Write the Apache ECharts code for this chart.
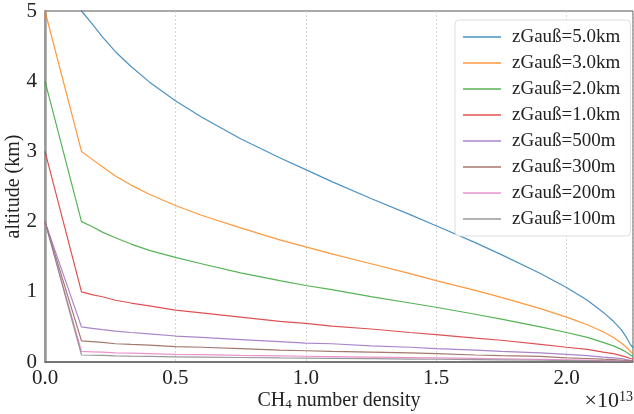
<!DOCTYPE html>
<html>
<head>
<meta charset="utf-8">
<script src="https://cdn.jsdelivr.net/npm/echarts@6/dist/echarts.min.js"></script>
<style>
  html, body { margin: 0; padding: 0; background: #fff; }
  #chart { width: 634px; height: 414px; }
</style>
</head>
<body>
<div id="chart"></div>
<script>
// CH4 number density (units of 1e13)
const density = [0, 0.14, 0.18, 0.22, 0.27, 0.33, 0.4, 0.5, 0.6, 0.75, 0.9, 1.0, 1.1, 1.25, 1.4, 1.5, 1.65, 1.75, 1.9, 2.0, 2.08, 2.14, 2.18, 2.21, 2.23, 2.245, 2.255];

// altitude (km) of each profile
const z5000 = [7, 5.00, 4.82, 4.63, 4.42, 4.21, 3.99, 3.72, 3.49, 3.18, 2.91, 2.74, 2.57, 2.33, 2.10, 1.94, 1.70, 1.53, 1.26, 1.06, 0.88, 0.71, 0.58, 0.46, 0.35, 0.25, 0.20];
const z3000 = [5, 3.00, 2.89, 2.78, 2.65, 2.52, 2.39, 2.23, 2.09, 1.91, 1.74, 1.64, 1.54, 1.40, 1.26, 1.16, 1.02, 0.92, 0.76, 0.64, 0.53, 0.43, 0.35, 0.27, 0.21, 0.15, 0.12];
const z2000 = [4, 2.00, 1.93, 1.85, 1.77, 1.68, 1.59, 1.49, 1.40, 1.27, 1.16, 1.09, 1.03, 0.93, 0.84, 0.78, 0.68, 0.61, 0.50, 0.42, 0.35, 0.28, 0.23, 0.18, 0.14, 0.10, 0.08];
const z1000 = [3, 1.00, 0.96, 0.93, 0.88, 0.84, 0.80, 0.74, 0.70, 0.64, 0.58, 0.55, 0.51, 0.47, 0.42, 0.39, 0.34, 0.31, 0.25, 0.21, 0.18, 0.14, 0.12, 0.09, 0.07, 0.05, 0.04];
const z500 = [2, 0.50, 0.48, 0.46, 0.44, 0.42, 0.40, 0.37, 0.35, 0.32, 0.29, 0.27, 0.26, 0.23, 0.21, 0.19, 0.17, 0.15, 0.13, 0.11, 0.09, 0.07, 0.06, 0.05, 0.035, 0.025, 0.02];
const z300 = [2, 0.30, 0.29, 0.28, 0.26, 0.25, 0.24, 0.22, 0.21, 0.19, 0.17, 0.16, 0.15, 0.14, 0.13, 0.12, 0.10, 0.09, 0.08, 0.06, 0.05, 0.04, 0.035, 0.027, 0.021, 0.015, 0.012];
const z200 = [2, 0.15, 0.145, 0.14, 0.13, 0.126, 0.12, 0.11, 0.105, 0.095, 0.087, 0.082, 0.077, 0.07, 0.063, 0.058, 0.051, 0.046, 0.038, 0.032, 0.026, 0.021, 0.017, 0.014, 0.011, 0.007, 0.006];
const z100 = [2, 0.10, 0.096, 0.093, 0.088, 0.084, 0.08, 0.074, 0.07, 0.064, 0.058, 0.055, 0.051, 0.047, 0.042, 0.039, 0.034, 0.031, 0.025, 0.021, 0.018, 0.014, 0.012, 0.009, 0.007, 0.005, 0.004];

const names = ["zGauß=5.0km", "zGauß=3.0km", "zGauß=2.0km", "zGauß=1.0km", "zGauß=500m", "zGauß=300m", "zGauß=200m", "zGauß=100m"];
const profiles = [z5000, z3000, z2000, z1000, z500, z300, z200, z100];
const colors = ["#1f77b4", "#ff7f0e", "#2ca02c", "#d62728", "#9467bd", "#8c564b", "#e377c2", "#7f7f7f"];

const font = "'Liberation Serif', 'DejaVu Serif', serif";

const chart = echarts.init(document.getElementById("chart"), null, { renderer: "canvas" });

chart.setOption({
  animation: false,
  color: colors,
  textStyle: { fontFamily: font },
  grid: {
    left: 45, right: 1, top: 11, bottom: 52,
    outerBoundsMode: "none",
    show: true, borderColor: "#555", borderWidth: 1
  },
  legend: {
    orient: "vertical",
    left: 455, top: 20,
    padding: [7, 10, 7, 8],
    itemWidth: 38, itemHeight: 1.5,
    itemGap: 6,
    icon: "rect",
    backgroundColor: "rgba(255,255,255,0.85)",
    borderColor: "#ddd", borderWidth: 1, borderRadius: 4,
    textStyle: { fontFamily: font, fontSize: 19, color: "#222", lineHeight: 20, padding: [0, 0, 0, 6] },
    data: names
  },
  xAxis: {
    type: "value",
    min: 0, max: 2.255, interval: 0.5,
    name: "CH{sub|4} number density",
    nameLocation: "middle", nameGap: 28,
    nameMoveOverlap: false,
    nameTextStyle: {
      fontFamily: font, fontSize: 20, color: "#222",
      rich: { sub: { fontFamily: font, fontSize: 13, color: "#222", verticalAlign: "bottom", padding: [8, 0, 0, 0] } }
    },
    axisLine: { show: true, lineStyle: { color: "#666", width: 1.5 } },
    axisTick: { show: false },
    axisLabel: { fontFamily: font, fontSize: 21, color: "#222", margin: 6, formatter: v => v.toFixed(1), showMaxLabel: false },
    splitLine: { show: true, lineStyle: { color: "#ccc", type: [2, 2], width: 0.8 } }
  },
  yAxis: {
    type: "value",
    min: 0, max: 5, interval: 1,
    name: "altitude (km)",
    nameLocation: "middle", nameGap: 21,
    nameMoveOverlap: false,
    nameTextStyle: { fontFamily: font, fontSize: 20, color: "#222" },
    axisLine: { show: true, lineStyle: { color: "#999", width: 2.5 } },
    axisTick: { show: false },
    axisLabel: { fontFamily: font, fontSize: 21, color: "#222", margin: 8 },
    splitLine: { show: false }
  },
  graphic: [{
    type: "text",
    right: 1, bottom: 2,
    style: {
      text: "×10{sup|13}",
      font: "22px " + font,
      fill: "#222",
      rich: { sup: { fontFamily: font, fontSize: 14, fill: "#222", verticalAlign: "top", padding: [0, 0, 8, 0] } }
    }
  }],
  series: profiles.map((p, i) => ({
    name: names[i],
    type: "line",
    data: density.map((x, j) => [x, p[j]]),
    showSymbol: false,
    symbol: "none",
    clip: true,
    lineStyle: { width: 1.2, opacity: 0.8 },
    itemStyle: { opacity: 0.8 }
  }))
});
</script>
</body>
</html>
